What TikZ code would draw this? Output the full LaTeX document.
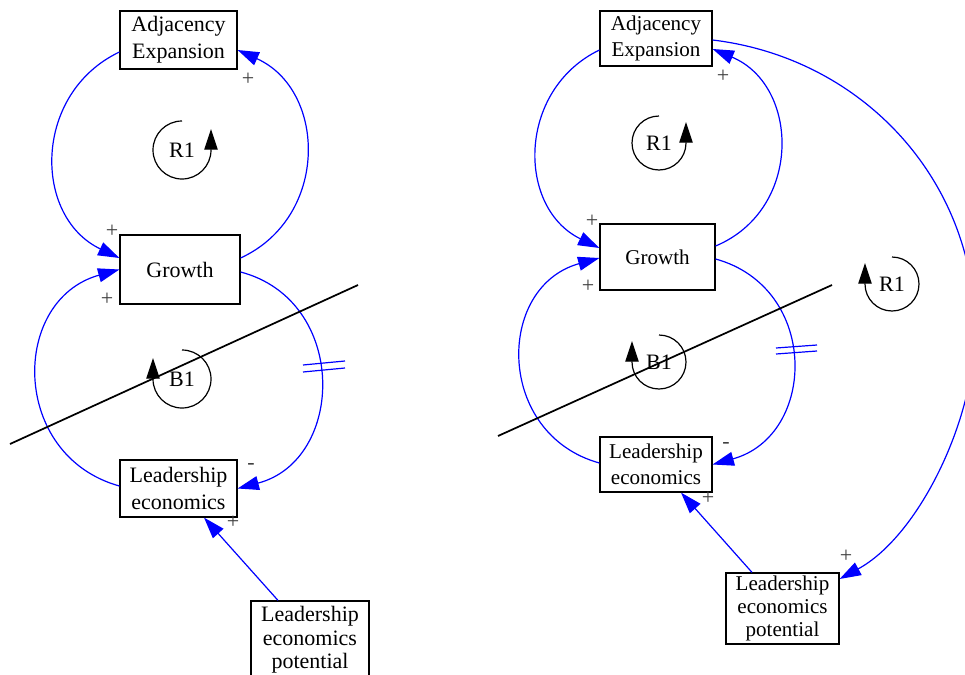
\documentclass[tikz,border=0pt]{standalone}
\usepackage{fontspec}
\setmainfont{Liberation Serif}
\usetikzlibrary{arrows.meta,calc}

\begin{document}
\begin{tikzpicture}[x=0.75pt,y=-0.75pt,
  box/.style={draw=black, line width=0.9pt, inner sep=0pt, align=center},
  bigtext/.style={font=\fontsize{16.5}{20}\selectfont},
  smalltext/.style={font=\fontsize{15.8}{19.5}\selectfont},
  link/.style={draw=blue, line width=0.9pt, -{Triangle[length=16pt,width=10.5pt]}},
  hash/.style={draw=blue, line width=0.9pt},
  cutline/.style={draw=black, line width=1.3pt},
  loopline/.style={draw=black, line width=0.9pt, -{Triangle[length=15.5pt,width=10pt]}},
  sign/.style={text=black!75, inner sep=0pt, font=\fontsize{16.5}{18}\selectfont},
  looplabel/.style={inner sep=0pt, font=\fontsize{16.5}{18}\selectfont}
]
\useasboundingbox (0,0) rectangle (965,675);
\clip (0,0) rectangle (965,675);

% ---------- left diagram: variables ----------
\node[box, bigtext, minimum width=87.75pt, minimum height=43.5pt] (adjL) at (178.5,40) {Adjacency\\Expansion};
\node[box, bigtext, minimum width=90pt, minimum height=51.75pt] (groL) at (180,269.5) {Growth};
\node[box, bigtext, minimum width=87.75pt, minimum height=42.75pt] (leL) at (178.5,488.5) {Leadership\\economics};
\node[box, font=\fontsize{16.5}{17.5}\selectfont, minimum width=88.5pt, minimum height=58.5pt] (potL) at (310,640) {Leadership\\economics\\potential};

% ---------- left diagram: links ----------
\draw[link] ($(adjL.west)+(0,12)$) .. controls +(-86.7,41.3) and +(-86.7,-41.3) .. ($(groL.west)+(0,-11.5)$);
\draw[link] ($(groL.east)+(0,-11.5)$) .. controls +(89,-41) and +(89,40) .. ($(adjL.east)+(0,10)$);
\draw[link] ($(leL.west)+(0,-2.5)$) .. controls +(-109.3,-30.4) and +(-109.3,30.4) .. (groL.west);
\draw[link] ($(groL.east)+(0,2.5)$) .. controls +(108,28.4) and +(108,-28.4) .. (leL.east);
\draw[link] ($(potL.north)+(-32,0)$) -- ($(leL.south)+(25.5,0)$);

% delay mark
\draw[hash] (303,365) -- (345,361);
\draw[hash] (303,372) -- (345,368);

% polarity signs
\node[sign] at (248,79) {+};
\node[sign] at (112,231) {+};
\node[sign] at (107,299) {+};
\node[sign] at (251,466) {-};
\node[sign] at (233,522) {+};

% loop markers
\node[looplabel] (loopRL) at (182,150) {R1};
\draw[loopline] ($(loopRL)+(0,-29)$) arc[start angle=-90, end angle=-360, radius=29] -- ++(0,-21);
\node[looplabel] (loopBL) at (182,379) {B1};
\draw[loopline] ($(loopBL)+(0,-29)$) arc[start angle=-90, end angle=180, radius=29] -- ++(0,-21);

% cut line
\coordinate (cutLa) at (10,444);
\coordinate (cutLb) at (358,285);
\draw[cutline] (cutLa) -- (cutLb);

% ---------- right diagram: variables ----------
\node[box, smalltext, minimum width=84pt, minimum height=41.25pt] (adjR) at (656,38.5) {Adjacency\\Expansion};
\node[box, smalltext, minimum width=86.25pt, minimum height=49.5pt] (groR) at (657.5,257) {Growth};
\node[box, smalltext, minimum width=84pt, minimum height=41.25pt] (leR) at (656,464.5) {Leadership\\economics};
\node[box, font=\fontsize{15.8}{17}\selectfont, minimum width=84.75pt, minimum height=53.25pt] (potR) at (782.5,608.5) {Leadership\\economics\\potential};

% ---------- right diagram: links ----------
\draw[link] ($(adjR.west)+(0,11.5)$) .. controls +(-82.6,40) and +(-82.6,-40) .. ($(groR.west)+(0,-9)$);
\draw[link] ($(groR.east)+(0,-11)$) .. controls +(87.2,-36.5) and +(87.2,36.5) .. ($(adjR.east)+(0,10.5)$);
\draw[link] ($(leR.west)+(0,-1.5)$) .. controls +(-103.9,-28.8) and +(-103.9,28.8) .. ($(groR.west)+(0,1)$);
\draw[link] ($(groR.east)+(0,2)$) .. controls +(104.4,28.9) and +(104.4,-28.9) .. (leR.east);
\draw[link] ($(potR.north)+(-30.5,0)$) -- ($(leR.south)+(25,0)$);
\coordinate (bend) at (975,330);
\draw[link] ($(adjR.east)+(0,1.5)$) .. controls +(150,18) and +(0,-150) .. (bend)
  .. controls +(0,90) and +(79,-43) .. ($(potR.east)+(0,-29.5)$);

% delay mark
\draw[hash] (776,348) -- (817,345);
\draw[hash] (776,354) -- (817,351);

% polarity signs
\node[sign] at (723,76) {+};
\node[sign] at (592,221) {+};
\node[sign] at (588,286) {+};
\node[sign] at (726,445) {-};
\node[sign] at (708,498) {+};
\node[sign] at (846,556) {+};

% loop markers
\node[looplabel] (loopRR) at (659,143) {R1};
\draw[loopline] ($(loopRR)+(0,-27)$) arc[start angle=-90, end angle=-360, radius=27] -- ++(0,-21);
\node[looplabel] (loopBR) at (659,362) {B1};
\draw[loopline] ($(loopBR)+(0,-27)$) arc[start angle=-90, end angle=180, radius=27] -- ++(0,-21);
\node[looplabel] (loopRR2) at (892,284) {R1};
\draw[loopline] ($(loopRR2)+(0,-27)$) arc[start angle=-90, end angle=180, radius=27] -- ++(0,-21);

% cut line
\coordinate (cutRa) at (498,436);
\coordinate (cutRb) at (832,285);
\draw[cutline] (cutRa) -- (cutRb);
\end{tikzpicture}
\end{document}
